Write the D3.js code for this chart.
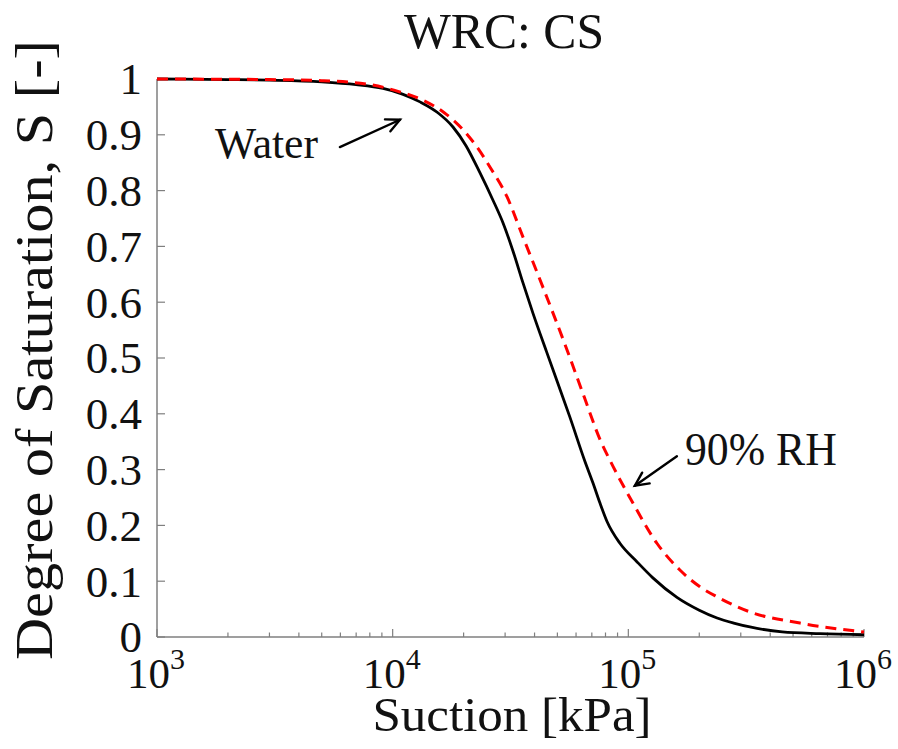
<!DOCTYPE html>
<html>
<head>
<meta charset="utf-8">
<script src="https://cdn.jsdelivr.net/npm/d3@7"></script>
<style>
  body { margin: 0; background: #fff; }
  svg text { font-family: "Liberation Serif", "Times New Roman", Times, "DejaVu Serif", serif; }
</style>
</head>
<body>
<svg class="svg-main" width="898" height="749"></svg>
<script>
// values
const waterSuction = [1000, 2000, 3000, 5000, 7000, 9100, 11000, 13060, 15500, 18030, 20500, 23450,
  26500, 29400, 32500, 35700, 39400, 45000, 50000, 56500, 65400, 70800, 75800, 81200, 92100,
  108700, 127100, 160800, 200000, 238000, 280000, 328000, 450000, 650000, 1000000];
const waterS = [1.0, 0.999, 0.998, 0.995, 0.99, 0.983, 0.973, 0.959, 0.94, 0.914, 0.88, 0.832,
  0.785, 0.742, 0.69, 0.635, 0.58, 0.511, 0.457, 0.394, 0.315, 0.276, 0.24, 0.207, 0.168,
  0.135, 0.106, 0.071, 0.048, 0.034, 0.025, 0.018, 0.009, 0.006, 0.004];

const rhSuction = [1000, 3000, 5000, 8000, 10700, 13450, 16500, 19900, 22800, 25900, 30550, 35700,
  43400, 55000, 65000, 76000, 83500, 104600, 132200, 165500, 201300, 238000, 328000,
  535000, 1000000];
const rhS = [1.0, 0.999, 0.997, 0.99, 0.977, 0.962, 0.94, 0.909, 0.878, 0.842, 0.789, 0.717,
  0.627, 0.514, 0.43, 0.353, 0.317, 0.24, 0.168, 0.12, 0.09, 0.072, 0.045,
  0.025, 0.009];

const xTickExp = [3, 4, 5, 6];
const yTicks = [0, 0.1, 0.2, 0.3, 0.4, 0.5, 0.6, 0.7, 0.8, 0.9, 1];

const svg = d3.select('.svg-main');

const x = d3.scaleLog().domain([1e3, 1e6]).range([157, 864]);
const y = d3.scaleLinear().domain([0, 1]).range([637, 79]);

const axisColor = "#7f7f7f";
const textColor = "#111";

// x axis: log ticks pointing inward
const minor = [];
[1e3, 1e4, 1e5].forEach((d) => { for (let k = 2; k <= 9; k++) minor.push(d * k); });

const gx = svg.append("g").attr("class", "x-axis");
gx.append("line")
  .attr("x1", x(1e3)).attr("x2", x(1e6))
  .attr("y1", y(0)).attr("y2", y(0))
  .attr("stroke", axisColor).attr("stroke-width", 1.5);
gx.selectAll("line.minor")
  .data(minor)
  .enter().append("line")
    .attr("class", "minor")
    .attr("x1", (d) => x(d)).attr("x2", (d) => x(d))
    .attr("y1", y(0)).attr("y2", y(0) - 4.5)
    .attr("stroke", axisColor).attr("stroke-width", 1.2);
gx.selectAll("line.major")
  .data(xTickExp)
  .enter().append("line")
    .attr("class", "major")
    .attr("x1", (d) => x(Math.pow(10, d))).attr("x2", (d) => x(Math.pow(10, d)))
    .attr("y1", y(0)).attr("y2", y(0) - 8)
    .attr("stroke", axisColor).attr("stroke-width", 1.2);

const xl = gx.selectAll("text")
  .data(xTickExp)
  .enter().append("text")
    .attr("x", (d) => x(Math.pow(10, d)) - 1)
    .attr("y", 688)
    .attr("text-anchor", "middle")
    .attr("fill", textColor)
    .style("font-size", "43px");
xl.append("tspan").text("10");
xl.append("tspan")
  .attr("dy", -19)
  .style("font-size", "30px")
  .text((d) => d);

// y axis
const gy = svg.append("g").attr("class", "y-axis");
gy.append("line")
  .attr("x1", x(1e3)).attr("x2", x(1e3))
  .attr("y1", y(0)).attr("y2", y(1))
  .attr("stroke", axisColor).attr("stroke-width", 1.5);
gy.selectAll("line.tick")
  .data(yTicks)
  .enter().append("line")
    .attr("class", "tick")
    .attr("x1", x(1e3)).attr("x2", x(1e3) + 8)
    .attr("y1", (d) => y(d)).attr("y2", (d) => y(d))
    .attr("stroke", axisColor).attr("stroke-width", 1.2);
gy.selectAll("text")
  .data(yTicks)
  .enter().append("text")
    .attr("x", 142)
    .attr("y", (d) => y(d))
    .attr("dy", "0.34em")
    .attr("text-anchor", "end")
    .attr("fill", textColor)
    .style("font-size", "45px")
    .text((d) => d3.format("")(d));

// titles
svg.append("text")
  .attr("x", 504).attr("y", 48)
  .attr("text-anchor", "middle")
  .attr("fill", textColor)
  .attr("textLength", 200).attr("lengthAdjust", "spacingAndGlyphs")
  .style("font-size", "51px")
  .text("WRC: CS");

svg.append("text")
  .attr("x", 512).attr("y", 731)
  .attr("text-anchor", "middle")
  .attr("fill", textColor)
  .attr("textLength", 279).attr("lengthAdjust", "spacingAndGlyphs")
  .style("font-size", "49px")
  .text("Suction [kPa]");

svg.append("text")
  .attr("transform", "translate(52," + 350 + ") rotate(-90)")
  .attr("text-anchor", "middle")
  .attr("fill", textColor)
  .attr("textLength", 620).attr("lengthAdjust", "spacingAndGlyphs")
  .style("font-size", "52px")
  .text("Degree of Saturation, S [-]");

// curves
const line = d3.line()
  .x((d) => x(d[0]))
  .y((d) => y(d[1]))
  .curve(d3.curveMonotoneX);

svg.append("path")
  .datum(waterSuction.map((s, i) => [s, waterS[i]]))
  .attr("fill", "none")
  .attr("stroke", "#000")
  .attr("stroke-width", 2.8)
  .attr("d", line);

svg.append("path")
  .datum(rhSuction.map((s, i) => [s, rhS[i]]))
  .attr("fill", "none")
  .attr("stroke", "#ff0000")
  .attr("stroke-width", 3)
  .attr("stroke-dasharray", "11,7")
  .attr("d", line);

// annotations
function arrow(from, to) {
  const x1 = x(from[0]), y1 = y(from[1]);
  const x2 = x(to[0]), y2 = y(to[1]);
  const a = Math.atan2(y2 - y1, x2 - x1);
  const h = 15, w = 0.45;
  const g = svg.append("g")
    .attr("stroke", "#000").attr("stroke-width", 2.4)
    .attr("fill", "none").attr("stroke-linecap", "round");
  g.append("line").attr("x1", x1).attr("y1", y1).attr("x2", x2).attr("y2", y2);
  g.append("path").attr("d",
    "M" + (x2 - h * Math.cos(a - w)) + "," + (y2 - h * Math.sin(a - w)) +
    "L" + x2 + "," + y2 +
    "L" + (x2 - h * Math.cos(a + w)) + "," + (y2 - h * Math.sin(a + w)));
}

arrow([5970, 0.878], [10740, 0.927]);
svg.append("text")
  .attr("x", x(4820)).attr("y", y(0.858))
  .attr("text-anchor", "end")
  .attr("fill", textColor)
  .attr("textLength", 103).attr("lengthAdjust", "spacingAndGlyphs")
  .style("font-size", "45px")
  .text("Water");

arrow([160700, 0.324], [106600, 0.271]);
svg.append("text")
  .attr("x", x(173800)).attr("y", y(0.308))
  .attr("fill", textColor)
  .attr("textLength", 152).attr("lengthAdjust", "spacingAndGlyphs")
  .style("font-size", "46px")
  .text("90% RH");
</script>
</body>
</html>
